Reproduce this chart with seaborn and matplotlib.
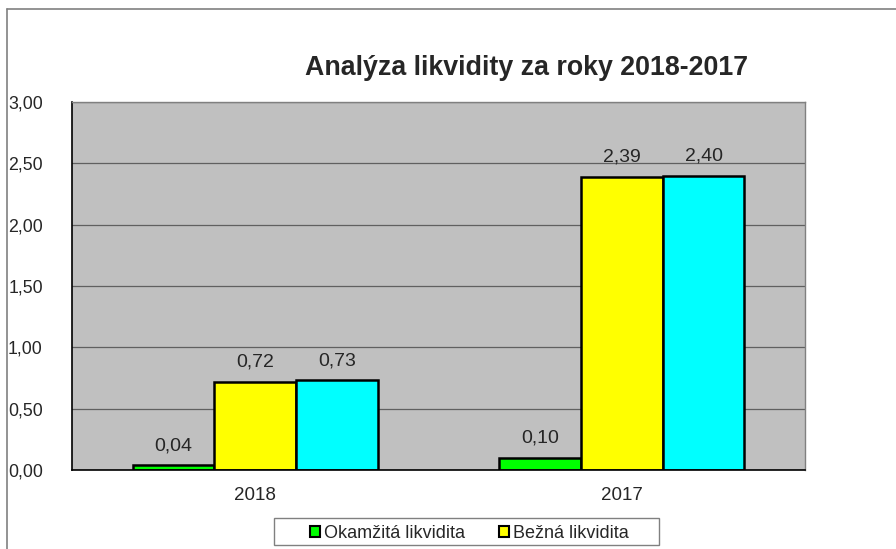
import pandas as pd
import seaborn as sns
import matplotlib.pyplot as plt
from matplotlib.patches import Rectangle
from matplotlib.lines import Line2D

# data
years = ["2018", "2017"]
series = ["Okamžitá likvidita", "Bežná likvidita", "Pohotová likvidita"]
okamzita = [0.04, 0.10]
bezna = [0.72, 2.39]
pohotova = [0.73, 2.40]
colors = ["#00FF00", "#FFFF00", "#00FFFF"]
y_ticks = [0.0, 0.5, 1.0, 1.5, 2.0, 2.5, 3.0]

rows = []
for name, vals in zip(series, [okamzita, bezna, pohotova]):
    for year, v in zip(years, vals):
        rows.append({"rok": year, "ukazatel": name, "hodnota": v})
df = pd.DataFrame(rows)

sns.set_style("white")
plt.rcParams["font.family"] = ["Liberation Sans", "DejaVu Sans"]

fig = plt.figure(figsize=(8.96, 5.49), dpi=100)
ax = fig.add_axes([0.0804, 0.1439, 0.818, 0.6703])

sns.barplot(data=df, x="rok", y="hodnota", hue="ukazatel", order=years,
            hue_order=series, palette=colors, width=0.67, saturation=1,
            edgecolor="black", linewidth=1.8, ax=ax, legend=False)

ax.set_facecolor("#C0C0C0")
ax.set_ylim(0, 3.0)
ax.set_xlim(-0.5, 1.5)
ax.set_yticks(y_ticks)
ax.set_yticklabels([f"{t:.2f}".replace(".", ",") for t in y_ticks], fontsize=12.8)
ax.yaxis.grid(True, color="#606060", linewidth=0.9)
ax.set_axisbelow(True)
ax.set_xlabel("")
ax.set_ylabel("")
ax.tick_params(axis="x", labelsize=13.5, length=0, pad=12)
ax.set_xticks([-0.5, 0.5, 1.5], minor=True)
ax.tick_params(axis="x", which="minor", length=5, width=1, color="black", direction="out")
ax.tick_params(axis="y", length=5, width=1, color="black", direction="out", pad=16)
for side in ["left", "bottom"]:
    ax.spines[side].set_color("black")
    ax.spines[side].set_linewidth(1.2)
for side in ["top", "right"]:
    ax.spines[side].set_color("#808080")
    ax.spines[side].set_linewidth(1.0)

for cont in ax.containers:
    for bar in cont:
        h = bar.get_height()
        ax.text(bar.get_x() + bar.get_width() / 2, h + 0.09,
                f"{h:.2f}".replace(".", ","), ha="center", va="bottom", fontsize=14)

fig.text(0.5877, 0.877, "Analýza likvidity za roky 2018-2017", ha="center",
         va="center", fontsize=19.3, fontweight="bold")

handles = [Rectangle((0, 0), 1, 1, facecolor=c, edgecolor="black", linewidth=1.5)
           for c in colors[:2]]
leg = fig.legend(handles, series[:2], loc="center", bbox_to_anchor=(0.524, 0.029),
                 ncol=2, fontsize=13, frameon=False,
                 handlelength=0.55, handleheight=0.55, handletextpad=0.2,
                 columnspacing=1.9, borderpad=0, borderaxespad=0)
# legend box is wider than its entries in the reference
fig.add_artist(Rectangle((274 / 896, 4 / 549), 385 / 896, 27 / 549,
                         transform=fig.transFigure, facecolor="none",
                         edgecolor="#808080", linewidth=1.0))

# outer chart frame (partially visible in the reference)
fig.add_artist(Line2D([0.0078, 1.0], [0.9836, 0.9836], color="#808080", linewidth=1.2))
fig.add_artist(Line2D([0.0078, 0.0078], [0.0, 0.9836], color="#808080", linewidth=1.2))

fig.savefig("out.png", dpi=100)
